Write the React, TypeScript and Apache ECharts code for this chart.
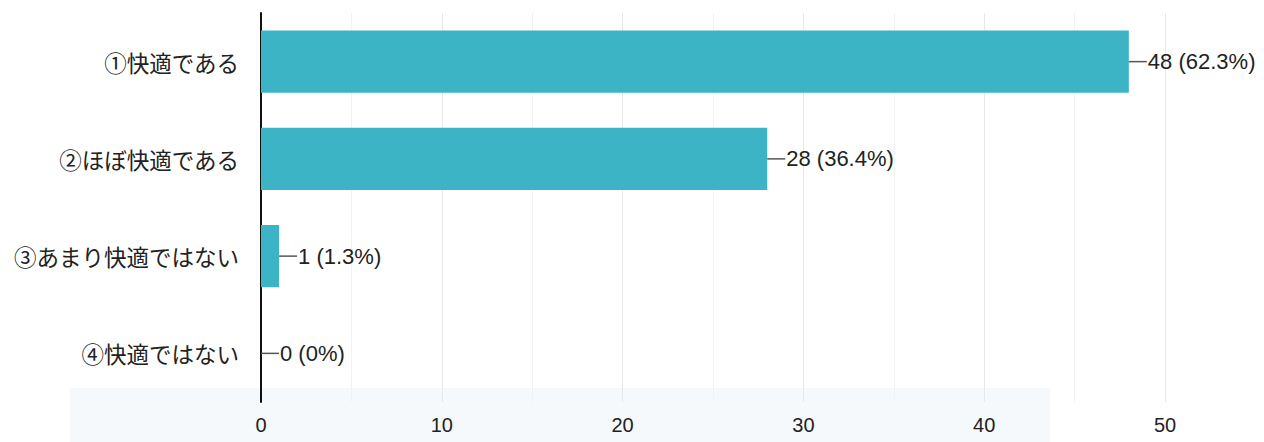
import React, { useEffect, useRef } from "react";
import * as echarts from "echarts";

const categories = ["①快適である", "②ほぼ快適である", "③あまり快適ではない", "④快適ではない"];
const counts = [48, 28, 1, 0];
const percents = ["62.3%", "36.4%", "1.3%", "0%"];
const axisMax = 50;
const axisStep = 10;

const FONT = "'Liberation Sans', Arial, 'Noto Sans CJK JP', sans-serif";

export default function App() {
  const ref = useRef<HTMLDivElement>(null);
  useEffect(() => {
    if (!ref.current) return;
    const chart = echarts.init(ref.current, null, { renderer: "svg" });
    chart.setOption({
      animation: false,
      backgroundColor: "#ffffff",
      textStyle: { fontFamily: FONT },
      graphic: [
        {
          type: "rect",
          z: -10,
          silent: true,
          shape: { x: 70, y: 388, width: 980, height: 54 },
          style: { fill: "#f5f9fc" },
        },
      ],
      grid: { left: 261, right: 99, top: 13, bottom: 40, containLabel: false },
      xAxis: {
        type: "value",
        min: 0,
        max: axisMax,
        interval: axisStep,
        axisLine: { show: false },
        axisTick: { show: false },
        axisLabel: { color: "#222", fontSize: 20, fontFamily: FONT, margin: 13 },
        splitLine: { show: true, lineStyle: { color: "#e8e8e8", width: 1 } },
        minorTick: { show: false, splitNumber: 2 },
        minorSplitLine: { show: true, lineStyle: { color: "#f2f2f2", width: 1 } },
      },
      yAxis: {
        type: "category",
        data: categories,
        inverse: true,
        axisLine: { show: true, lineStyle: { color: "#111", width: 2 } },
        axisTick: { show: false },
        axisLabel: { color: "#222", fontSize: 22.5, fontFamily: "'Noto Sans CJK JP', sans-serif", margin: 22 },
        splitLine: { show: false },
      },
      series: [
        {
          type: "bar",
          data: counts,
          barWidth: "64%",
          itemStyle: { color: "#3db4c5" },
          label: {
            show: true,
            position: "right",
            distance: 0,
            formatter: (p: any) => `{l|}{t|${counts[p.dataIndex]} (${percents[p.dataIndex]})}`,
            rich: {
              l: { width: 18, height: 1.5, backgroundColor: "#555" },
              t: { color: "#222", fontSize: 22, fontFamily: FONT, padding: [0, 0, 0, 1] },
            },
          },
        },
      ],
    });
    return () => chart.dispose();
  }, []);
  return (
    <div
      ref={ref}
      style={{ position: "fixed", left: 0, top: 0, width: 1264, height: 442 }}
    />
  );
}
